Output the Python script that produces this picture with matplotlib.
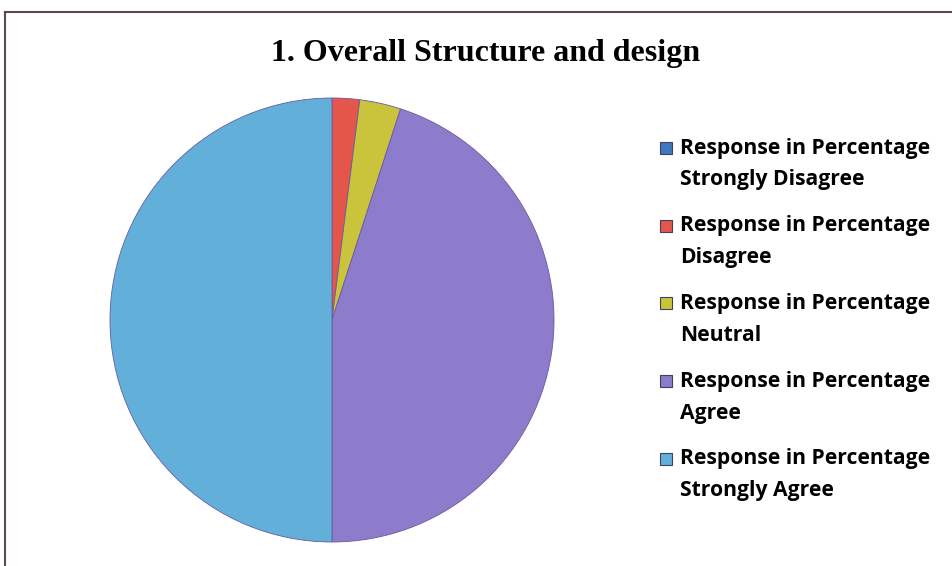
import matplotlib
matplotlib.use("Agg")
import matplotlib.pyplot as plt
from matplotlib.patches import Rectangle
from matplotlib.lines import Line2D

categories = ["Strongly Disagree", "Disagree", "Neutral", "Agree", "Strongly Agree"]
values = [0, 2, 3, 45, 50]
series_name = "Response in Percentage"
colors = ["#3f78c0", "#e4564a", "#c9c43c", "#8c7ccb", "#62b0da"]
title = "1. Overall Structure and design"

W, H = 952, 566
fig = plt.figure(figsize=(W/100, H/100), dpi=100)
fig.patch.set_facecolor("white")

# frame lines (left and top)
fig.add_artist(Line2D([5/W, 5/W], [0, 1-12/H], color="#5a4a48", lw=1.5))
fig.add_artist(Line2D([5/W, 1], [1-12/H, 1-12/H], color="#5a4a48", lw=1.5))

r = 222
cx, cy = 332, 320
ax = fig.add_axes([(cx-r)/W, (H-cy-r)/H, 2*r/W, 2*r/H])
wedges, _ = ax.pie(values, colors=colors, startangle=90, counterclock=False,
                   wedgeprops=dict(linewidth=0.6, edgecolor="#6a5aa0"))
ax.set_aspect("auto")
ax.set_xlim(-1, 1)
ax.set_ylim(-1, 1)

fig.text(486/W, 1-53/H, title, ha="center", va="center",
         fontfamily="Liberation Serif", fontweight="bold", fontsize=23)

# legend, drawn as text entries
font = dict(family="Open Sans", weight="bold", size=15.2)
y0, step, line = 148, 77.7, 32
for i, (cat, col) in enumerate(zip(categories, colors)):
    y = y0 + i * step
    fig.add_artist(Rectangle((660/W, 1-(y+6)/H), 12/W, 12/H, transform=fig.transFigure,
                             facecolor=col, edgecolor="#404060", linewidth=0.8))
    fig.text(680/W, 1-y/H, series_name, ha="left", va="center", **font)
    fig.text(680/W, 1-(y+line)/H, cat, ha="left", va="center", **font)

fig.savefig("out.png", dpi=100)
